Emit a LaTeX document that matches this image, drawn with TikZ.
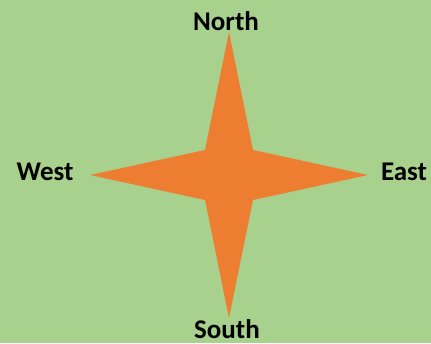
\documentclass[tikz,border=0pt]{standalone}
\usepackage{fontspec}
\setmainfont{Carlito}
\usepackage{xcolor}
\usepackage{tikz}
\definecolor{bggreen}{HTML}{A9D18E}
\definecolor{starorange}{HTML}{ED7D31}

\begin{document}
\begin{tikzpicture}[
    x=1pt, y=-1pt,
    dirlabel/.style={font=\fontsize{27}{31}\selectfont\bfseries, anchor=base, inner sep=0pt, text=black},
    starshape/.style={fill=starorange, draw=none},
  ]

    % --- background ---
    \fill[bggreen] (0,0) rectangle (431,343);
    \useasboundingbox (0,0) rectangle (431,343);

    % --- star ---
    \coordinate (ntip) at (229,32);
    \coordinate (stip) at (229,318);
    \coordinate (wtip) at (90,175);
    \coordinate (etip) at (368,175);
    \fill[starshape] (ntip) -- (253,150) -- (etip) -- (253,200) -- (stip)
      -- (205,200) -- (wtip) -- (205,150) -- cycle;

    % --- labels ---
    \node[dirlabel] (north) at (226,30) {North};
    \node[dirlabel] (west) at (45,180) {West};
    \node[dirlabel] (east) at (404,180) {East};
    \node[dirlabel] (south) at (227,338) {South};

  \end{tikzpicture}
\end{document}
